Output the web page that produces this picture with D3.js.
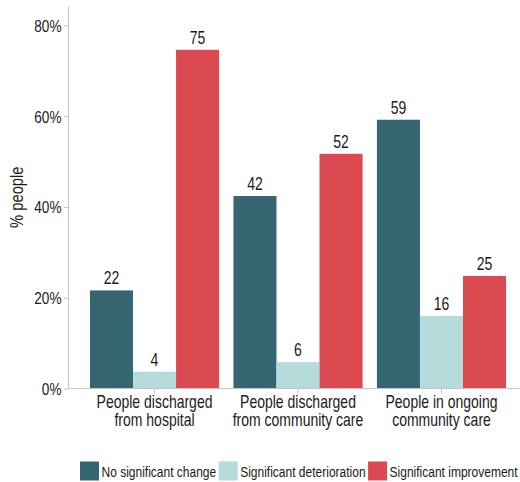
<!DOCTYPE html>
<html>
<head>
<meta charset="utf-8">
<script src="https://cdn.jsdelivr.net/npm/d3@7/dist/d3.min.js"></script>
<style>
  html, body { margin: 0; padding: 0; background: #fff; }
  svg { display: block; font-family: "Liberation Sans", Arial, sans-serif; }
</style>
</head>
<body>
<svg id="chart" width="520" height="482"></svg>
<script>
// ---- data ----
const categories = ["People discharged\nfrom hospital", "People discharged\nfrom community care", "People in ongoing\ncommunity care"];
const seriesNames = ["No significant change", "Significant deterioration", "Significant improvement"];
const noChange = [21.6, 42.4, 59.2];
const deterioration = [3.7, 5.8, 16.0];
const improvement = [74.6, 51.7, 24.8];
const yTicks = [0, 20, 40, 60, 80];
const colors = ["#376673", "#b5dbdb", "#dc4a51"];

const seriesValues = [noChange, deterioration, improvement];
const table = categories.map((c, i) => ({
  category: c,
  values: seriesNames.map((s, j) => ({ series: s, value: seriesValues[j][i], idx: j }))
}));

const SX = 0.8; // narrow text look
const svg = d3.select("#chart");
const axisColor = "#c4c4c4";
const textColor = "#1a1a1a";

const x0 = d3.scaleBand().domain(categories).range([69, 527]).paddingInner(0.1).paddingOuter(0.146);
const x1 = d3.scaleBand().domain(seriesNames).range([0, x0.bandwidth()]).padding(0);
const y = d3.scaleLinear().domain([0, 80]).range([388.5, 25.3]);

function narrowText(sel, x, y) {
  return sel.attr("x", 0).attr("y", 0).attr("transform", `translate(${x},${y}) scale(${SX},1)`);
}

// y axis
const yAxis = svg.append("g").attr("transform", "translate(69,0)")
  .call(d3.axisLeft(y).tickValues(yTicks).tickFormat(d => d + "%").tickSize(5).tickPadding(3));
yAxis.select(".domain").remove();
yAxis.selectAll(".tick line").attr("stroke", axisColor);
yAxis.selectAll(".tick text").attr("fill", textColor).style("font-size", "17px")
  .style("font-family", "'Liberation Sans', Arial, sans-serif")
  .attr("dy", null)
  .each(function () { narrowText(d3.select(this), -7.5, 6); });
svg.append("line").attr("x1", 68.5).attr("x2", 68.5).attr("y1", 6).attr("y2", y(0))
  .attr("stroke", axisColor);

// bars
const groups = svg.append("g").selectAll("g").data(table).join("g")
  .attr("transform", d => `translate(${x0(d.category)},0)`);
groups.selectAll("rect").data(d => d.values).join("rect")
  .attr("x", d => x1(d.series))
  .attr("width", x1.bandwidth())
  .attr("y", d => y(d.value))
  .attr("height", d => y(0) - y(d.value))
  .attr("fill", d => colors[d.idx]);
groups.selectAll("text").data(d => d.values).join("text")
  .attr("text-anchor", "middle")
  .attr("fill", textColor)
  .style("font-size", "17.5px")
  .each(function (d) { narrowText(d3.select(this), x1(d.series) + x1.bandwidth() / 2, y(d.value) - 6); })
  .text(d => d3.format(".0f")(d.value));

// x axis
const xAxis = svg.append("g").attr("transform", `translate(0,${y(0)})`)
  .call(d3.axisBottom(x0).tickSize(5).tickSizeOuter(0).tickFormat(""));
xAxis.select(".domain").remove();
xAxis.selectAll(".tick line").attr("stroke", axisColor);
svg.append("line").attr("x1", 69).attr("x2", 520).attr("y1", y(0)).attr("y2", y(0)).attr("stroke", axisColor);
xAxis.selectAll(".tick").append("text")
  .attr("text-anchor", "middle")
  .attr("fill", textColor)
  .style("font-size", "17.5px")
  .style("font-family", "'Liberation Sans', Arial, sans-serif")
  .attr("transform", `scale(${SX},1)`)
  .selectAll("tspan").data(d => d.split("\n")).join("tspan")
  .attr("x", 0)
  .attr("y", (d, i) => 20 + i * 17.5)
  .text(d => d);

// y label
svg.append("text")
  .attr("transform", `translate(23,${(6 + y(0)) / 2}) rotate(-90) scale(${SX},1)`)
  .attr("text-anchor", "middle")
  .attr("fill", textColor)
  .style("font-size", "18.5px")
  .text("% people");

// legend
const legend = svg.append("g");
let lx = 80;
seriesNames.forEach((s, i) => {
  legend.append("rect").attr("x", lx).attr("y", 461.5).attr("width", 19).attr("height", 19).attr("fill", colors[i]);
  const t = legend.append("text").attr("fill", textColor).style("font-size", "15px").text(s);
  narrowText(t, lx + 21.5, 476.5);
  lx += 21.5 + t.node().getComputedTextLength() * SX + 2.5;
});
</script>
</body>
</html>
